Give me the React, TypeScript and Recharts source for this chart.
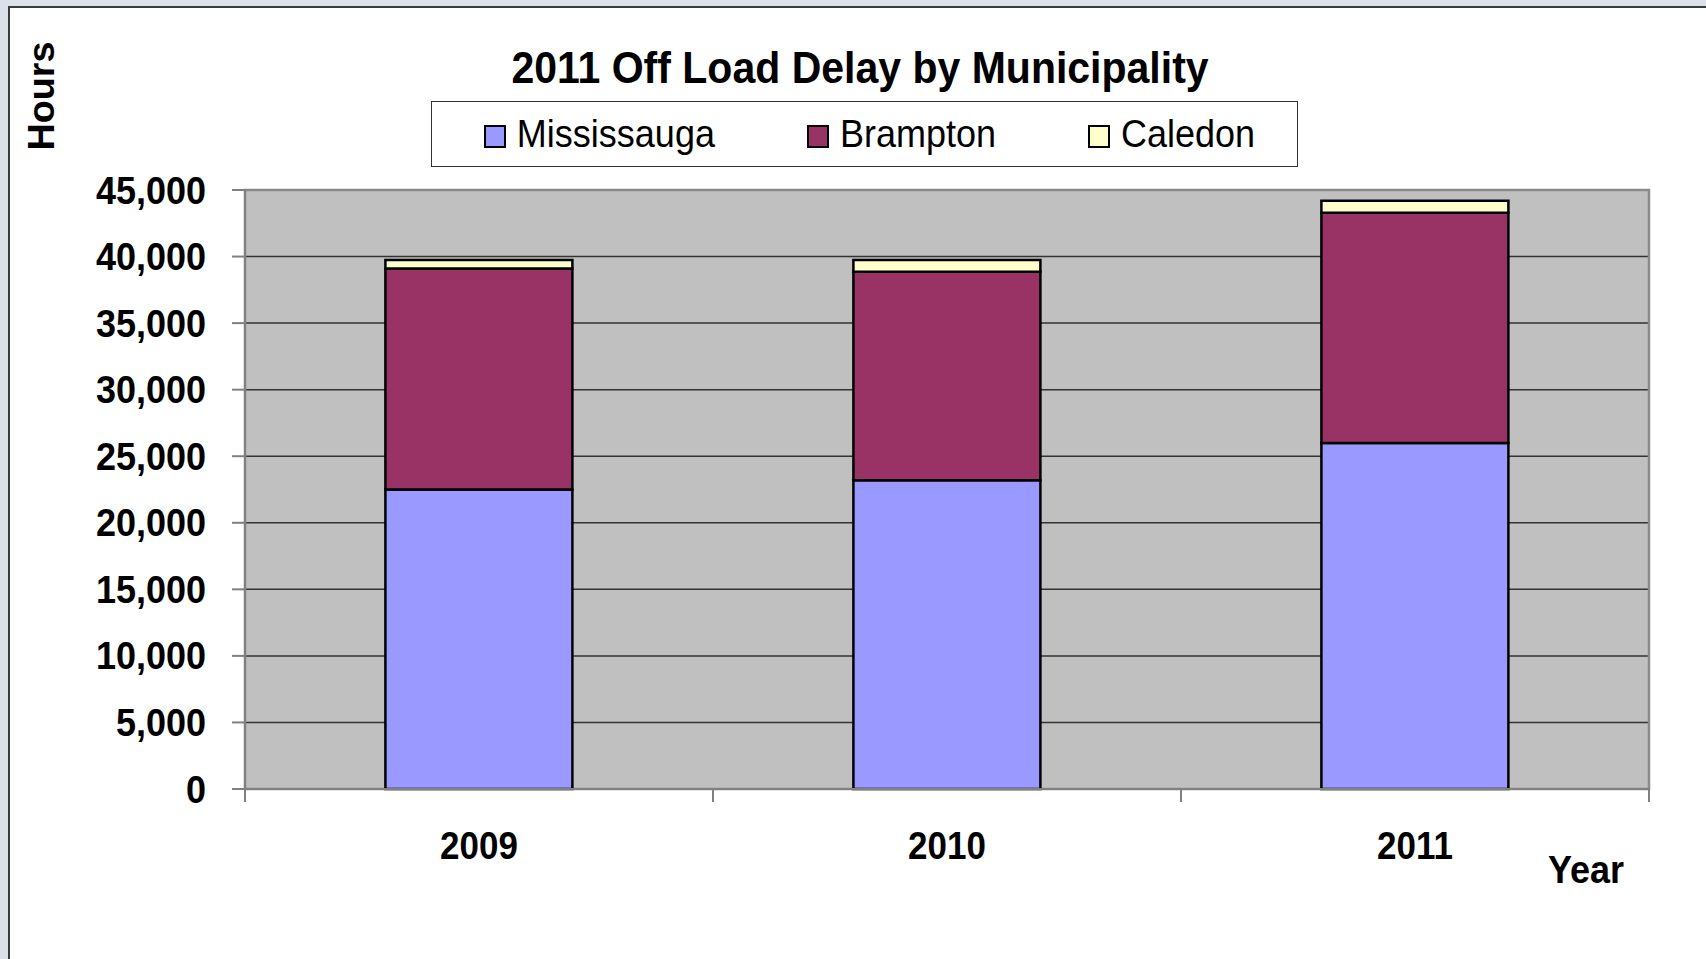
import { Bar, BarChart, CartesianGrid, ReferenceArea, XAxis, YAxis } from "recharts";

const years = ["2009", "2010", "2011"];
const mississauga = [22500, 23200, 26000];
const brampton = [16600, 15650, 17300];
const caledon = [650, 900, 900];
const yTicks = [0, 5000, 10000, 15000, 20000, 25000, 30000, 35000, 40000, 45000];

const seriesKeys = ["mississauga", "brampton", "caledon"];
const seriesNames = ["Mississauga", "Brampton", "Caledon"];
const seriesColors = ["#9999FF", "#993366", "#FFFFCC"];

const data = years.map((year, i) => ({
  year,
  mississauga: mississauga[i],
  brampton: brampton[i],
  caledon: caledon[i],
}));

const W = 1706;
const H = 959;
// plot area edges in the page
const PLOT_LEFT = 245;
const PLOT_RIGHT = 1649;
const PLOT_TOP = 190;
const PLOT_BOTTOM = 789;
const Y_AXIS_W = 110;
const X_AXIS_H = 100;

const FONT = '"Liberation Sans", Arial, Helvetica, sans-serif';
const TALL = 1.1; // the source text is drawn a little stretched vertically

function YearTick({ x, y, payload, index }: any) {
  const band = (PLOT_RIGHT - PLOT_LEFT) / years.length;
  const left = x - band / 2;
  const right = x + band / 2;
  return (
    <g>
      <line x1={left} x2={left} y1={y} y2={y + 13} stroke="#808080" strokeWidth={2} />
      {index === years.length - 1 && (
        <line x1={right} x2={right} y1={y} y2={y + 13} stroke="#808080" strokeWidth={2} />
      )}
      <text
        transform={`translate(${x},${y + 57}) scale(1,${TALL})`}
        textAnchor="middle"
        dominantBaseline="central"
        fontFamily={FONT}
        fontSize={35}
        fontWeight="bold"
        fill="#000"
      >
        {payload.value}
      </text>
    </g>
  );
}

function HoursTick({ x, y, payload }: any) {
  return (
    <text
      transform={`translate(${x},${y}) scale(1,${TALL})`}
      textAnchor="end"
      dominantBaseline="central"
      fontFamily={FONT}
      fontSize={36}
      fontWeight="bold"
      fill="#000"
    >
      {payload.value.toLocaleString("en-US")}
    </text>
  );
}

export default function App() {
  return (
    <div
      style={{
        position: "fixed",
        left: 0,
        top: 0,
        width: W,
        height: H,
        background: "#dce0e9",
        overflow: "hidden",
        fontFamily: FONT,
      }}
    >
      <div
        style={{
          position: "absolute",
          left: 8,
          top: 6,
          width: W,
          height: H,
          background: "#fff",
          borderLeft: "2px solid #3a3a3a",
          borderTop: "2px solid #3a3a3a",
        }}
      />

      <div style={{ position: "absolute", left: 0, top: 0 }}>
        <BarChart
          width={W}
          height={H}
          data={data}
          barCategoryGap="30%"
          margin={{
            top: PLOT_TOP,
            right: W - PLOT_RIGHT,
            bottom: H - PLOT_BOTTOM - X_AXIS_H,
            left: PLOT_LEFT - Y_AXIS_W,
          }}
        >
          <CartesianGrid
            vertical={false}
            stroke="#333"
            strokeWidth={1.5}
            fill="#C0C0C0"
            fillOpacity={1}
          />
          <XAxis
            dataKey="year"
            height={X_AXIS_H}
            tickLine={false}
            tickSize={0}
            tickMargin={0}
            axisLine={{ stroke: "#808080", strokeWidth: 2 }}
            tick={<YearTick />}
            interval={0}
          />
          <YAxis
            width={Y_AXIS_W}
            domain={[0, 45000]}
            ticks={yTicks}
            interval={0}
            tickSize={13}
            tickMargin={26}
            axisLine={{ stroke: "#808080", strokeWidth: 2 }}
            tickLine={{ stroke: "#808080", strokeWidth: 2 }}
            tick={<HoursTick />}
          />
          <ReferenceArea
            y1={0}
            y2={45000}
            fill="none"
            stroke="#8a8a8a"
            strokeWidth={2.5}
            ifOverflow="extendDomain"
          />
          {seriesKeys.map((k, i) => (
            <Bar
              key={k}
              dataKey={k}
              name={seriesNames[i]}
              stackId="a"
              fill={seriesColors[i]}
              stroke="#000"
              strokeWidth={2.5}
              isAnimationActive={false}
            />
          ))}
        </BarChart>
      </div>

      <div
        style={{
          position: "absolute",
          left: 360,
          width: 1000,
          top: 43,
          textAlign: "center",
          fontSize: 41,
          fontWeight: "bold",
          color: "#000",
          lineHeight: "50px",
          transform: `scaleY(${TALL})`,
        }}
      >
        2011 Off Load Delay by Municipality
      </div>

      <div
        style={{
          position: "absolute",
          left: 431,
          top: 101,
          width: 867,
          height: 66,
          border: "1.5px solid #333",
          background: "#fff",
          display: "flex",
          alignItems: "center",
          justifyContent: "center",
          gap: 92,
          paddingLeft: 10,
          boxSizing: "border-box",
        }}
      >
        {seriesNames.map((n, i) => (
          <div key={n} style={{ display: "flex", alignItems: "center", gap: 11 }}>
            <div
              style={{
                width: 18,
                height: 19,
                background: seriesColors[i],
                border: "2px solid #000",
                marginTop: 4,
              }}
            />
            <span
              style={{
                fontSize: 36,
                color: "#000",
                lineHeight: "40px",
                display: "inline-block",
                transform: `scaleY(${TALL})`,
              }}
            >
              {n}
            </span>
          </div>
        ))}
      </div>

      <div
        style={{
          position: "absolute",
          left: 41,
          top: 96,
          transform: `translate(-50%, -50%) rotate(-90deg) scaleY(1.05) scaleX(1.05)`,
          fontSize: 36,
          fontWeight: "bold",
          color: "#000",
          whiteSpace: "nowrap",
        }}
      >
        Hours
      </div>

      <div
        style={{
          position: "absolute",
          left: 1548,
          top: 848,
          fontSize: 36,
          fontWeight: "bold",
          color: "#000",
          lineHeight: "44px",
          transform: `scaleY(${TALL})`,
        }}
      >
        Year
      </div>
    </div>
  );
}
